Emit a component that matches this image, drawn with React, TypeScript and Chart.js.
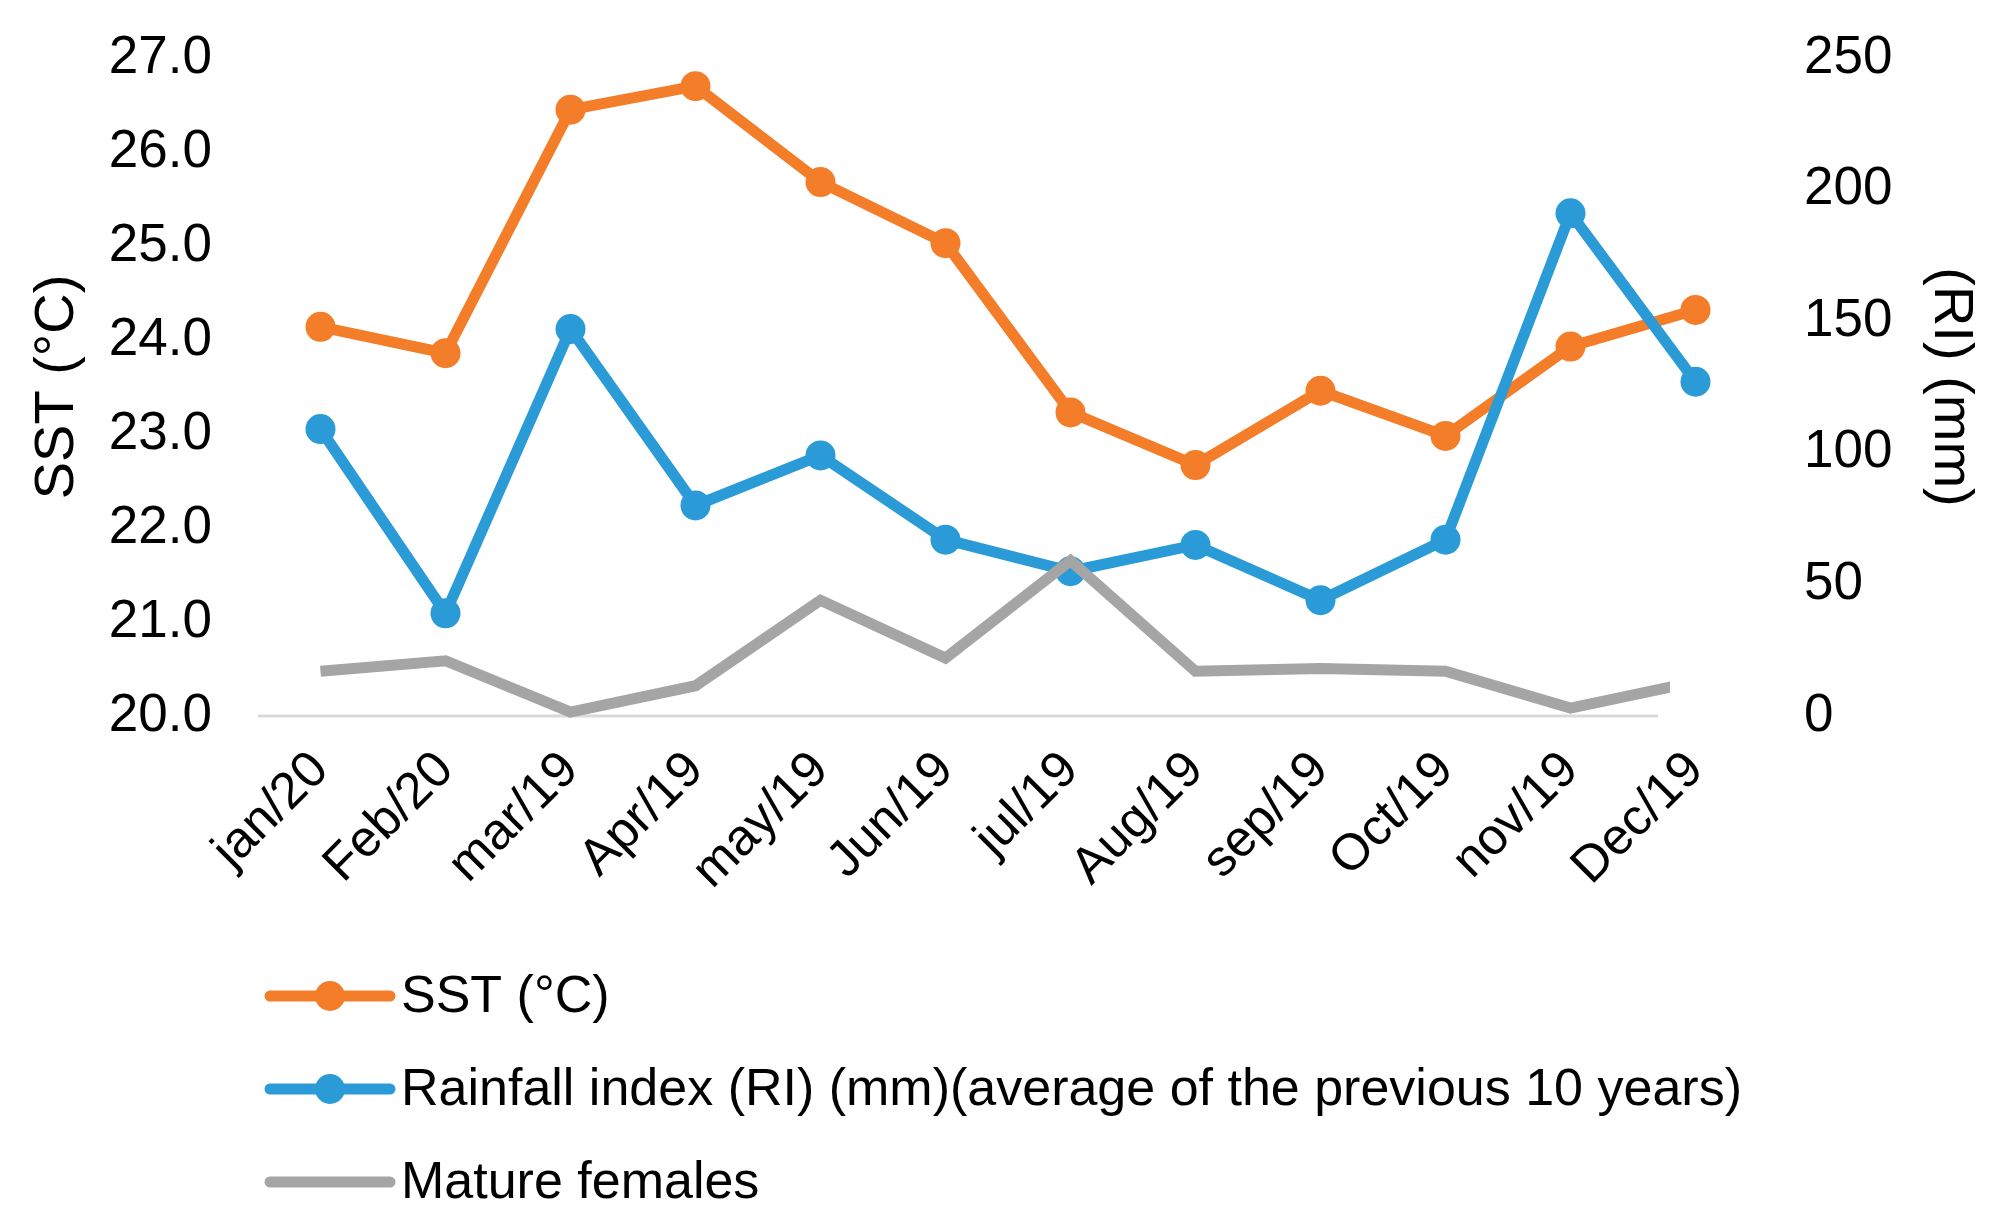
import React, { useEffect, useRef } from "react";
import { Chart, registerables } from "chart.js";

Chart.register(...registerables);

const months = [
  "jan/20", "Feb/20", "mar/19", "Apr/19", "may/19", "Jun/19",
  "jul/19", "Aug/19", "sep/19", "Oct/19", "nov/19", "Dec/19",
];
const sst = [24.14, 23.86, 26.45, 26.7, 25.68, 25.03, 23.23, 22.67, 23.46, 22.98, 23.93, 24.32];
const rainfall = [109, 39, 147, 80, 99, 67, 55, 65, 44, 67, 191, 127];
const matureFemales = [17, 21, 1.5, 11.5, 44, 22, 59, 17, 18, 17, 3, 13];

const ORANGE = "#F47D2A";
const BLUE = "#2B9BD8";
const GRAY = "#A5A5A5";
const FONT = "'Liberation Sans', Arial, sans-serif";

const legendItems = [
  { label: "SST (°C)", color: ORANGE, marker: true },
  { label: "Rainfall index (RI) (mm)(average of the previous 10 years)", color: BLUE, marker: true },
  { label: "Mature females", color: GRAY, marker: false },
];

// short light-grey baseline, it stops before the last category like the source
const baseline = {
  id: "baseline",
  beforeDatasetsDraw(chart: Chart) {
    const { ctx, chartArea } = chart;
    ctx.save();
    ctx.strokeStyle = "#D9D9D9";
    ctx.lineWidth = 3;
    ctx.beginPath();
    ctx.moveTo(chartArea.left, chartArea.bottom);
    ctx.lineTo(chartArea.right - 100, chartArea.bottom);
    ctx.stroke();
    ctx.restore();
  },
};

// legend drawn below the axis, one entry per row
const bottomLegend = {
  id: "bottomLegend",
  afterDraw(chart: Chart) {
    const ctx = chart.ctx;
    const x0 = 270;
    const rowTop = 996;
    const rowGap = 93;
    ctx.save();
    legendItems.forEach((item, i) => {
      const y = rowTop + i * rowGap;
      ctx.strokeStyle = item.color;
      ctx.lineWidth = 11;
      ctx.lineCap = "round";
      ctx.beginPath();
      ctx.moveTo(x0, y);
      ctx.lineTo(x0 + 120, y);
      ctx.stroke();
      if (item.marker) {
        ctx.fillStyle = item.color;
        ctx.beginPath();
        ctx.arc(x0 + 60, y, 15, 0, Math.PI * 2);
        ctx.fill();
      }
      ctx.fillStyle = "#000";
      ctx.font = `52px ${FONT}`;
      ctx.textBaseline = "middle";
      ctx.textAlign = "left";
      ctx.fillText(item.label, x0 + 131, y + 2);
    });
    ctx.restore();
  },
};

export default function App() {
  const canvasRef = useRef<HTMLCanvasElement>(null);

  useEffect(() => {
    document.body.style.margin = "0";
    if (!canvasRef.current) return;

    const chart = new Chart(canvasRef.current, {
      type: "line",
      data: {
        labels: months,
        datasets: [
          {
            label: "SST (°C)",
            data: sst,
            yAxisID: "y",
            borderColor: ORANGE,
            backgroundColor: ORANGE,
            borderWidth: 11,
            pointRadius: 15,
            pointBorderWidth: 0,
            order: 2,
          },
          {
            label: "Rainfall index (RI) (mm)(average of the previous 10 years)",
            data: rainfall,
            yAxisID: "y1",
            borderColor: BLUE,
            backgroundColor: BLUE,
            borderWidth: 11,
            pointRadius: 15,
            pointBorderWidth: 0,
            order: 1,
          },
          {
            label: "Mature females",
            data: matureFemales,
            yAxisID: "y1",
            borderColor: GRAY,
            backgroundColor: GRAY,
            borderWidth: 11,
            pointRadius: 0,
            order: 0,
            clip: { left: false, top: false, right: -88, bottom: false },
          },
        ],
      },
      options: {
        animation: false,
        responsive: false,
        devicePixelRatio: 1,
        layout: { padding: { top: 58, left: 0, right: 21, bottom: 314 } },
        plugins: {
          legend: { display: false },
          tooltip: { enabled: false },
        },
        scales: {
          x: {
            offset: true,
            grid: { display: false, drawTicks: false },
            border: { display: false },
            ticks: {
              color: "#000",
              font: { family: FONT, size: 51 },
              minRotation: 45,
              maxRotation: 45,
              autoSkip: false,
              padding: 24,
            },
            afterFit: (scale) => {
              scale.height = 200;
            },
          },
          y: {
            position: "left",
            min: 20,
            max: 27,
            grid: { display: false, drawTicks: false },
            border: { display: false },
            ticks: {
              stepSize: 1,
              color: "#000",
              font: { family: FONT, size: 53 },
              padding: 46,
              callback: (v) => Number(v).toFixed(1),
            },
            title: {
              display: true,
              text: "SST (°C)",
              color: "#000",
              font: { family: FONT, size: 56 },
              padding: { top: 24, bottom: 18 },
            },
            afterFit: (scale) => {
              scale.width = 258;
              scale.paddingTop = 0;
              scale.paddingBottom = 0;
            },
          },
          y1: {
            position: "right",
            min: 0,
            max: 250,
            grid: { display: false, drawTicks: false },
            border: { display: false },
            ticks: {
              stepSize: 50,
              color: "#000",
              font: { family: FONT, size: 53 },
              padding: 46,
            },
            title: {
              display: true,
              text: "(RI) (mm)",
              color: "#000",
              font: { family: FONT, size: 56 },
              padding: { top: 0, bottom: 25 },
            },
            afterFit: (scale) => {
              scale.width = 226;
              scale.paddingTop = 0;
              scale.paddingBottom = 0;
            },
          },
        },
      },
      plugins: [baseline, bottomLegend],
    });

    return () => chart.destroy();
  }, []);

  return (
    <div style={{ width: 2005, height: 1230, background: "#fff" }}>
      <canvas ref={canvasRef} width={2005} height={1230} />
    </div>
  );
}
